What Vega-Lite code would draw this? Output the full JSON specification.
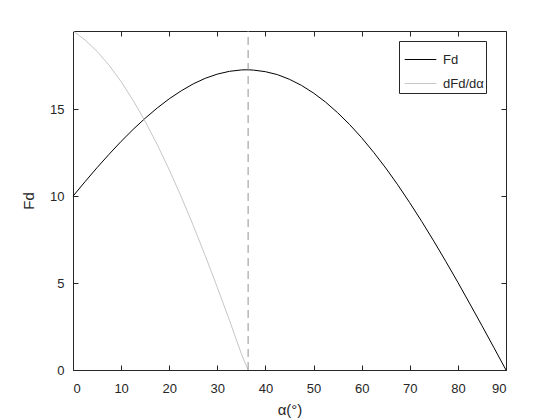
{
  "$schema": "https://vega.github.io/schema/vega-lite/v6.json",
  "width": 433,
  "height": 339,
  "autosize": "none",
  "padding": {"left": 73, "top": 31, "right": 54, "bottom": 50},
  "background": "white",
  "config": {
    "font": "Liberation Sans",
    "view": {"stroke": "#262626", "strokeWidth": 1},
    "axis": {
      "grid": false,
      "domain": false,
      "tickColor": "#262626",
      "tickSize": -5,
      "labelColor": "#262626",
      "labelFontSize": 13,
      "labelFont": "Liberation Sans",
      "titleFont": "Liberation Sans",
      "titleColor": "#262626",
      "titleFontWeight": "normal",
      "titleFontSize": 15
    }
  },
  "datasets": {
    "curves": [
      {"alpha": 0, "value": 10.00, "series": "Fd"},
      {"alpha": 2.5, "value": 10.83, "series": "Fd"},
      {"alpha": 5, "value": 11.64, "series": "Fd"},
      {"alpha": 7.5, "value": 12.41, "series": "Fd"},
      {"alpha": 10, "value": 13.15, "series": "Fd"},
      {"alpha": 12.5, "value": 13.84, "series": "Fd"},
      {"alpha": 15, "value": 14.48, "series": "Fd"},
      {"alpha": 17.5, "value": 15.07, "series": "Fd"},
      {"alpha": 20, "value": 15.60, "series": "Fd"},
      {"alpha": 22.5, "value": 16.06, "series": "Fd"},
      {"alpha": 25, "value": 16.46, "series": "Fd"},
      {"alpha": 27.5, "value": 16.78, "series": "Fd"},
      {"alpha": 30, "value": 17.02, "series": "Fd"},
      {"alpha": 32.5, "value": 17.18, "series": "Fd"},
      {"alpha": 35, "value": 17.26, "series": "Fd"},
      {"alpha": 36.4, "value": 17.27, "series": "Fd"},
      {"alpha": 37.5, "value": 17.25, "series": "Fd"},
      {"alpha": 40, "value": 17.16, "series": "Fd"},
      {"alpha": 42.5, "value": 16.99, "series": "Fd"},
      {"alpha": 45, "value": 16.72, "series": "Fd"},
      {"alpha": 47.5, "value": 16.37, "series": "Fd"},
      {"alpha": 50, "value": 15.93, "series": "Fd"},
      {"alpha": 52.5, "value": 15.41, "series": "Fd"},
      {"alpha": 55, "value": 14.80, "series": "Fd"},
      {"alpha": 57.5, "value": 14.12, "series": "Fd"},
      {"alpha": 60, "value": 13.36, "series": "Fd"},
      {"alpha": 62.5, "value": 12.52, "series": "Fd"},
      {"alpha": 65, "value": 11.62, "series": "Fd"},
      {"alpha": 67.5, "value": 10.65, "series": "Fd"},
      {"alpha": 70, "value": 9.62, "series": "Fd"},
      {"alpha": 72.5, "value": 8.54, "series": "Fd"},
      {"alpha": 75, "value": 7.41, "series": "Fd"},
      {"alpha": 77.5, "value": 6.24, "series": "Fd"},
      {"alpha": 80, "value": 5.04, "series": "Fd"},
      {"alpha": 82.5, "value": 3.80, "series": "Fd"},
      {"alpha": 85, "value": 2.55, "series": "Fd"},
      {"alpha": 87.5, "value": 1.28, "series": "Fd"},
      {"alpha": 90, "value": 0.00, "series": "Fd"},
      {"alpha": 0, "value": 19.50, "series": "dFd/dα"},
      {"alpha": 2.5, "value": 18.99, "series": "dFd/dα"},
      {"alpha": 5, "value": 18.33, "series": "dFd/dα"},
      {"alpha": 7.5, "value": 17.53, "series": "dFd/dα"},
      {"alpha": 10, "value": 16.59, "series": "dFd/dα"},
      {"alpha": 12.5, "value": 15.51, "series": "dFd/dα"},
      {"alpha": 15, "value": 14.30, "series": "dFd/dα"},
      {"alpha": 17.5, "value": 12.97, "series": "dFd/dα"},
      {"alpha": 20, "value": 11.52, "series": "dFd/dα"},
      {"alpha": 22.5, "value": 9.96, "series": "dFd/dα"},
      {"alpha": 25, "value": 8.31, "series": "dFd/dα"},
      {"alpha": 27.5, "value": 6.57, "series": "dFd/dα"},
      {"alpha": 30, "value": 4.75, "series": "dFd/dα"},
      {"alpha": 32.5, "value": 2.87, "series": "dFd/dα"},
      {"alpha": 35, "value": 0.93, "series": "dFd/dα"},
      {"alpha": 36.4, "value": 0.00, "series": "dFd/dα"}
    ],
    "peak": [{"alpha": 36.4}]
  },
  "layer": [
    {
      "data": {"name": "curves"},
      "mark": {"type": "line", "strokeWidth": 1},
      "encoding": {
        "x": {
          "field": "alpha", "type": "quantitative",
          "scale": {"domain": [0, 90], "nice": false},
          "axis": {"orient": "bottom", "values": [0,10,20,30,40,50,60,70,80,90], "labelPadding": 17, "title": "α(°)", "titlePadding": 7}
        },
        "y": {
          "field": "value", "type": "quantitative",
          "scale": {"domain": [0, 19.5], "nice": false, "zero": true},
          "axis": {"orient": "left", "values": [0,5,10,15], "labelPadding": 14, "title": "Fd", "titlePadding": 13}
        },
        "color": {
          "field": "series", "type": "nominal",
          "scale": {"domain": ["Fd", "dFd/dα"], "range": ["#000000", "#c6c6c6"]},
          "legend": {
            "orient": "none",
            "legendX": 326,
            "legendY": 10,
            "title": null,
            "symbolType": "stroke",
            "symbolSize": 1000,
            "symbolStrokeWidth": 1,
            "symbolOffset": 3,
            "labelFontSize": 13,
            "labelColor": "#262626",
            "labelOffset": 6,
            "padding": 2,
            "rowPadding": -5,
            "labelLimit": 200,
            "strokeColor": "#262626",
            "fillColor": "white",
            "cornerRadius": 0
          }
        },
        "order": {"field": "alpha", "type": "quantitative"}
      }
    },
    {
      "data": {"name": "peak"},
      "mark": {"type": "rule", "color": "#939393", "strokeWidth": 1, "strokeDash": [8, 5]},
      "encoding": {
        "x": {
          "field": "alpha", "type": "quantitative",
          "axis": {"orient": "top", "values": [0,10,20,30,40,50,60,70,80,90], "labels": false, "title": null}
        },
        "y": {"datum": 0, "type": "quantitative", "axis": {"orient": "right", "values": [0,5,10,15], "labels": false, "title": null}},
        "y2": {"datum": 19.5}
      }
    }
  ],
  "resolve": {"axis": {"x": "independent", "y": "independent"}}
}
